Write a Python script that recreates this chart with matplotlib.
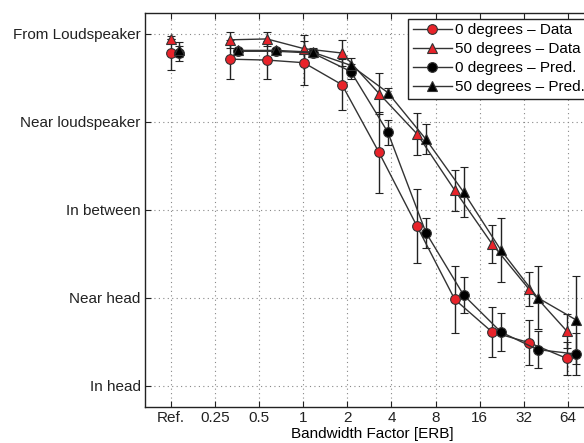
import numpy as np
import matplotlib
matplotlib.use("Agg")
import matplotlib.pyplot as plt
from matplotlib.lines import Line2D

plt.rcParams['font.family'] = ['Liberation Sans', 'DejaVu Sans']

# x axis: reference condition plus bandwidth factors (ERB)
tick_values = [0.125, 0.25, 0.5, 1, 2, 4, 8, 16, 32, 64]
tick_labels = ['Ref.', '0.25', '0.5', '1', '2', '4', '8', '16', '32', '64']
y_labels = ['In head', 'Near head', 'In between', 'Near loudspeaker', 'From Loudspeaker']

ref_x = 0.125
bandwidth = [0.315, 0.567, 1.01, 1.84, 3.29, 5.98, 10.8, 19.4, 34.5, 62.7]

# 0 degrees - data
ref_d0, ref_d0_err = 4.78, 0.19
d0 = [4.71, 4.70, 4.67, 4.42, 3.65, 2.81, 1.98, 1.61, 1.49, 1.31]
d0_err = [0.22, 0.22, 0.25, 0.29, 0.46, 0.42, 0.38, 0.28, 0.26, 0.19]

# 50 degrees - data
ref_d50, ref_d50_err = 4.94, 0.0
d50 = [4.93, 4.94, 4.83, 4.78, 4.32, 3.86, 3.22, 2.61, 2.10, 1.62]
d50_err = [0.09, 0.08, 0.16, 0.15, 0.23, 0.24, 0.23, 0.22, 0.19, 0.19]

# 0 degrees - prediction
ref_p0, ref_p0_err = 4.78, 0.085
p0 = [4.80, 4.80, 4.78, 4.57, 3.88, 2.74, 2.03, 1.61, 1.41, 1.36]
p0_err = [0.03, 0.03, 0.05, 0.08, 0.14, 0.17, 0.20, 0.22, 0.21, 0.24]

# 50 degrees - prediction
ref_p50, ref_p50_err = 4.82, 0.085
p50 = [4.81, 4.81, 4.79, 4.64, 4.33, 3.80, 3.20, 2.54, 2.00, 1.75]
p50_err = [0.03, 0.03, 0.05, 0.08, 0.05, 0.17, 0.28, 0.36, 0.36, 0.50]

red = '#e8232a'
edge = '#333333'
pred_shift = 2 ** 0.2  # predictions drawn slightly to the right

fig = plt.figure(figsize=(5.84, 4.43), dpi=100)
ax = fig.add_axes([0.2483, 0.0813, 0.779, 0.8894])

series = [
    (ref_d0, ref_d0_err, d0, d0_err, 'o', red, 1.0, '0 degrees – Data'),
    (ref_d50, ref_d50_err, d50, d50_err, '^', red, 1.0, '50 degrees – Data'),
    (ref_p0, ref_p0_err, p0, p0_err, 'o', 'black', pred_shift, '0 degrees – Pred.'),
    (ref_p50, ref_p50_err, p50, p50_err, '^', 'black', pred_shift, '50 degrees – Pred.'),
]

msize = 7
common = dict(color=edge, ecolor='#222222', elinewidth=1.0, capsize=3,
              capthick=1.0, markeredgecolor=edge, markeredgewidth=0.8,
              markersize=msize, linewidth=1.0)

handles = []
for ref_y, ref_e, ys, es, mk, fc, shift, lab in series:
    xs = np.array(bandwidth) * shift
    ax.errorbar(xs, ys, yerr=es, fmt='-' + mk, markerfacecolor=fc,
                zorder=3, **common)
    ax.errorbar([ref_x * shift], [ref_y], yerr=[ref_e], fmt=mk,
                markerfacecolor=fc, zorder=3, **common)
    handles.append(Line2D([], [], color=edge, marker=mk, markerfacecolor=fc,
                          markeredgecolor=edge, markeredgewidth=0.8,
                          markersize=msize, linewidth=1.0, label=lab))

ax.set_xscale('log', base=2)
ax.set_xlim(0.125 * 2 ** -0.58, 0.125 * 2 ** 9.72)
ax.set_ylim(0.758, 5.235)
ax.set_xticks(tick_values)
ax.set_xticklabels(tick_labels)
ax.minorticks_off()
ax.set_yticks([1, 2, 3, 4, 5])
ax.set_yticklabels(y_labels)

ax.grid(True, linestyle=(0, (1, 3)), color='#888888', linewidth=0.8)
ax.set_axisbelow(True)
ax.tick_params(direction='in', top=True, right=True, length=4,
               labelsize=11, colors='#222222', pad=3)
for s in ax.spines.values():
    s.set_linewidth(1.0)
    s.set_color('#222222')

ax.set_xlabel('Bandwidth Factor [ERB]', fontsize=11, labelpad=1)

leg = ax.legend(handles=handles, loc='upper left', bbox_to_anchor=(0.578, 0.985),
                fontsize=11, frameon=True, fancybox=False, framealpha=1,
                edgecolor='#222222', handlelength=2.6, handletextpad=0.2,
                labelspacing=0.32, borderpad=0.3, borderaxespad=0.0)
leg.get_frame().set_linewidth(1.0)
leg.set_zorder(10)

fig.savefig('out.png', dpi=100)
